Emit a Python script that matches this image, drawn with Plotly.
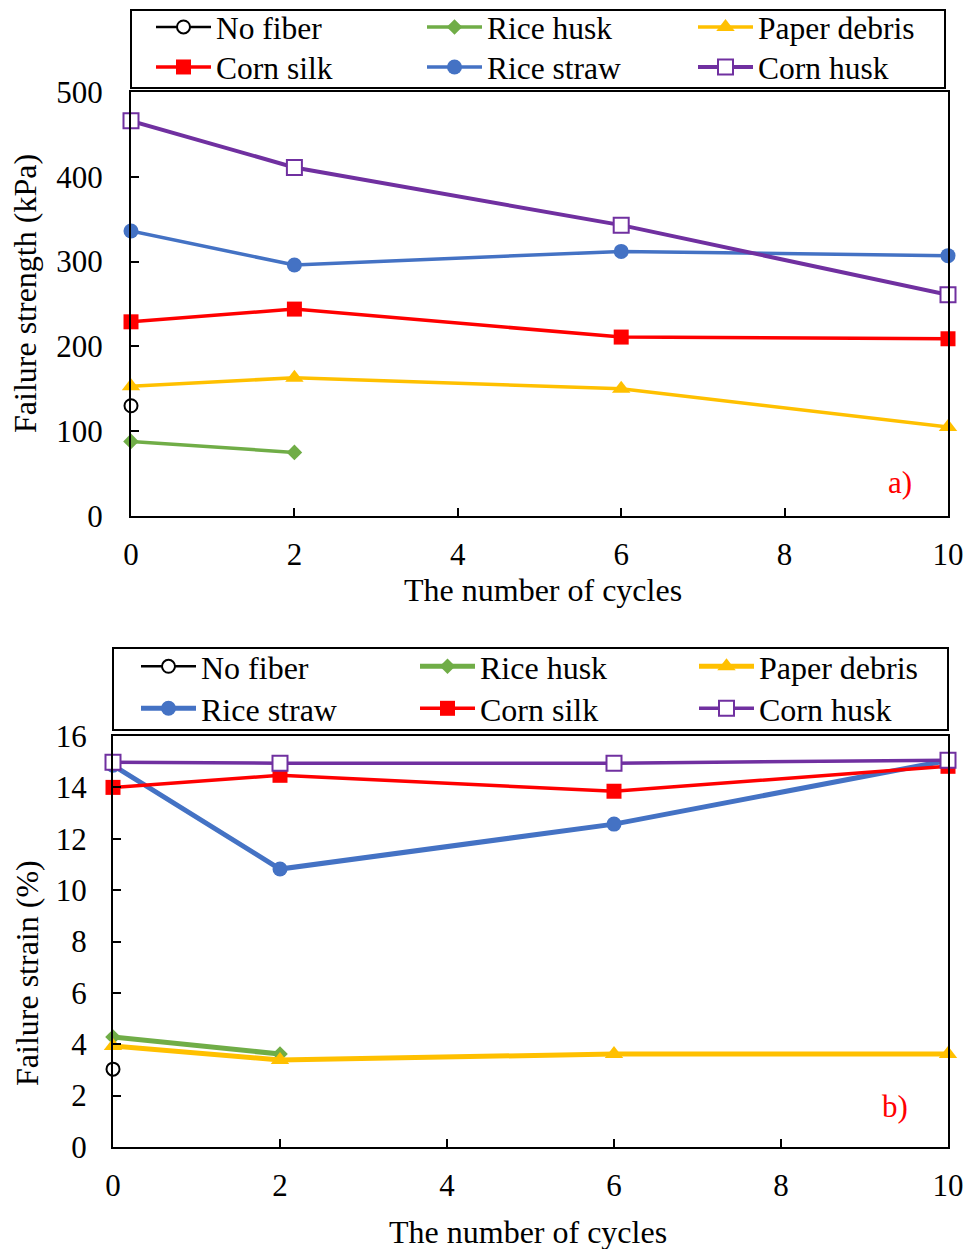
import plotly.graph_objects as go

W, H = 969, 1249


def px(sx):
    return sx / W


def py(sy):
    return 1 - sy / H


cycles = [0, 2, 6, 10]

# (a) Failure strength (kPa)
s_nofiber_x = [0]
s_nofiber = [130]
s_ricehusk_x = [0, 2]
s_ricehusk = [88, 75]
s_paper = [153, 163, 150, 105]
s_cornsilk = [229, 244, 211, 209]
s_ricestraw = [336, 296, 312, 307]
s_cornhusk = [466, 411, 343, 261]

# (b) Failure strain (%)
e_nofiber_x = [0]
e_nofiber = [3.03]
e_ricehusk_x = [0, 2]
e_ricehusk = [4.28, 3.62]
e_paper = [3.93, 3.39, 3.62, 3.62]
e_ricestraw = [14.86, 10.82, 12.57, 15.05]
e_cornsilk = [14.0, 14.47, 13.85, 14.82]
e_cornhusk = [14.98, 14.94, 14.94, 15.06]

FONT = "Liberation Serif, Times New Roman, serif"
FS = 31
FT = 32

C_GREEN = "#70AD47"
C_YELLOW = "#FFC000"
C_RED = "#FF0000"
C_BLUE = "#4472C4"
C_PURPLE = "#7030A0"

fig = go.Figure()


def add(name, x, y, color, symbol, size, xa, ya, legend, fill=None, lw=3.5):
    fig.add_trace(go.Scatter(
        x=x, y=y, name=name, mode="lines+markers",
        line=dict(color=color, width=lw),
        marker=dict(symbol=symbol, size=size, color=fill if fill else color,
                    line=dict(color=color, width=2 if fill else 0)),
        xaxis=xa, yaxis=ya, legend=legend, cliponaxis=False,
    ))


# top (legend rows: legend = row 1, legend3 = row 2)
add("No fiber", s_nofiber_x, s_nofiber, "black", "circle", 13, "x", "y", "legend", fill="white", lw=2.5)
add("Rice husk", s_ricehusk_x, s_ricehusk, C_GREEN, "diamond", 12, "x", "y", "legend")
add("Paper debris", cycles, s_paper, C_YELLOW, "triangle-up", 16, "x", "y", "legend")
add("Corn silk", cycles, s_cornsilk, C_RED, "square", 15, "x", "y", "legend3")
add("Rice straw", cycles, s_ricestraw, C_BLUE, "circle", 15, "x", "y", "legend3")
add("Corn husk", cycles, s_cornhusk, C_PURPLE, "square", 15, "x", "y", "legend3", fill="white", lw=4)

# bottom (legend rows: legend2 = row 1, legend4 = row 2)
add("No fiber", e_nofiber_x, e_nofiber, "black", "circle", 13, "x2", "y2", "legend2", fill="white", lw=2.5)
add("Rice husk", e_ricehusk_x, e_ricehusk, C_GREEN, "diamond", 12, "x2", "y2", "legend2", lw=5)
add("Paper debris", cycles, e_paper, C_YELLOW, "triangle-up", 16, "x2", "y2", "legend2", lw=5)
add("Rice straw", cycles, e_ricestraw, C_BLUE, "circle", 15, "x2", "y2", "legend4", lw=5)
add("Corn silk", cycles, e_cornsilk, C_RED, "square", 15, "x2", "y2", "legend4")
add("Corn husk", cycles, e_cornhusk, C_PURPLE, "square", 15, "x2", "y2", "legend4", fill="white")

axis_common = dict(
    showgrid=False, zeroline=False, showline=True, linecolor="black", linewidth=2,
    mirror=True, ticks="inside", ticklen=8, tickwidth=2, tickcolor="black",
    tickfont=dict(family=FONT, size=FS, color="black"), automargin=False,
)


def leg(x, top, ew, size):
    return dict(orientation="h", x=px(x), y=py(top), xanchor="left", yanchor="top",
                xref="paper", yref="paper", borderwidth=0, bgcolor="rgba(0,0,0,0)",
                entrywidth=ew, itemwidth=55, font=dict(family=FONT, size=size),
                tracegroupgap=0)


fig.update_layout(
    width=W, height=H,
    margin=dict(l=0, r=0, t=0, b=0, autoexpand=False),
    paper_bgcolor="white", plot_bgcolor="white",
    font=dict(family=FONT, size=FS, color="black"),
    xaxis=dict(axis_common, domain=[px(131), px(948)], range=[0, 10],
               tickvals=[0, 2, 4, 6, 8, 10], ticklabelstandoff=10, anchor="y"),
    yaxis=dict(axis_common, domain=[py(516), py(92)], range=[0, 500],
               tickvals=[0, 100, 200, 300, 400, 500], ticklabelstandoff=20, anchor="x"),
    xaxis2=dict(axis_common, domain=[px(113), px(948)], range=[0, 10],
                tickvals=[0, 2, 4, 6, 8, 10], ticklabelstandoff=10, anchor="y2"),
    yaxis2=dict(axis_common, domain=[py(1147), py(736)], range=[0, 16],
                tickvals=list(range(0, 17, 2)), ticklabelstandoff=18, anchor="x2"),
    legend=leg(151, 0, 201, 31.5),
    legend3=leg(151, 40, 201, 31.5),
    legend2=leg(136, 639, 209, FT),
    legend4=leg(136, 681, 209, FT),
    shapes=[
        dict(type="rect", xref="paper", yref="paper", x0=px(131), x1=px(945),
             y0=py(88), y1=py(10), line=dict(color="black", width=2), layer="below"),
        dict(type="rect", xref="paper", yref="paper", x0=px(113), x1=px(948),
             y0=py(730), y1=py(648), line=dict(color="black", width=2), layer="below"),
    ],
    annotations=[
        dict(text="Failure strength (kPa)", x=px(25), y=py(294), xref="paper", yref="paper",
             textangle=-90, showarrow=False, xanchor="center", yanchor="middle",
             font=dict(family=FONT, size=FT)),
        dict(text="The number of cycles", x=px(543), y=py(590), xref="paper", yref="paper",
             showarrow=False, xanchor="center", yanchor="middle",
             font=dict(family=FONT, size=FT)),
        dict(text="Failure strain (%)", x=px(27), y=py(973), xref="paper", yref="paper",
             textangle=-90, showarrow=False, xanchor="center", yanchor="middle",
             font=dict(family=FONT, size=FT)),
        dict(text="The number of cycles", x=px(528), y=py(1232), xref="paper", yref="paper",
             showarrow=False, xanchor="center", yanchor="middle",
             font=dict(family=FONT, size=FT)),
        dict(text="a)", x=9.41, y=40, xref="x", yref="y", showarrow=False,
             font=dict(family=FONT, size=FS, color="red")),
        dict(text="b)", x=9.37, y=1.56, xref="x2", yref="y2", showarrow=False,
             font=dict(family=FONT, size=FS, color="red")),
    ],
)

fig.write_html("out.html", config={"displayModeBar": False},
               post_script="document.body.style.margin='0';document.body.style.overflow='hidden';")
